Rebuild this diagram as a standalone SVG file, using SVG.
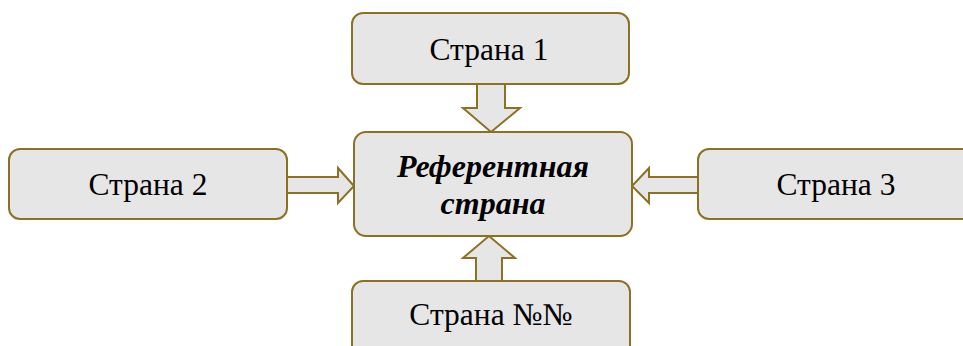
<svg xmlns="http://www.w3.org/2000/svg" width="963" height="346" viewBox="0 0 963 346">
<style>
.box{fill:#e6e6e6;stroke:#8c7125;stroke-width:2}
.arr{fill:#e6e6e6;stroke:#8c7125;stroke-width:2;stroke-linejoin:miter}
.t{font-family:"Liberation Serif","Times New Roman",serif;font-size:31.5px;fill:#000;text-anchor:middle}
.b{font-weight:bold;font-style:italic;font-size:32px}
</style>
<rect width="963" height="346" fill="#fff"/>
<g id="connectors">
<polygon class="arr" points="477,84 505,84 505,108 520,108 491,132 463,108 477,108"/>
<polygon class="arr" points="287,177 338,177 338,168 354,186 338,203 338,193 287,193"/>
<polygon class="arr" points="698,177 649,177 649,168 632,186 649,203 649,193 698,193"/>
<polygon class="arr" points="476,281 502,281 502,258 515,258 489,236 463,258 476,258"/>
</g>
<g id="country1">
<rect class="box" x="352" y="13" width="277" height="71" rx="11"/>
<text class="t" x="489" y="60">Страна 1</text>
</g>
<g id="country2">
<rect class="box" x="9" y="149" width="278" height="70" rx="11"/>
<text class="t" x="148" y="195">Страна 2</text>
</g>
<g id="country3">
<rect class="box" x="698" y="149" width="290" height="70" rx="11"/>
<text class="t" x="836" y="195">Страна 3</text>
</g>
<g id="reference">
<rect class="box" x="354" y="132" width="278" height="104" rx="12"/>
<text class="t b" x="493" y="177">Референтная</text>
<text class="t b" x="493" y="214">страна</text>
</g>
<g id="countryN">
<rect class="box" x="352" y="281" width="278" height="90" rx="11"/>
<text class="t" x="491" y="325">Страна №№</text>
</g>
</svg>
